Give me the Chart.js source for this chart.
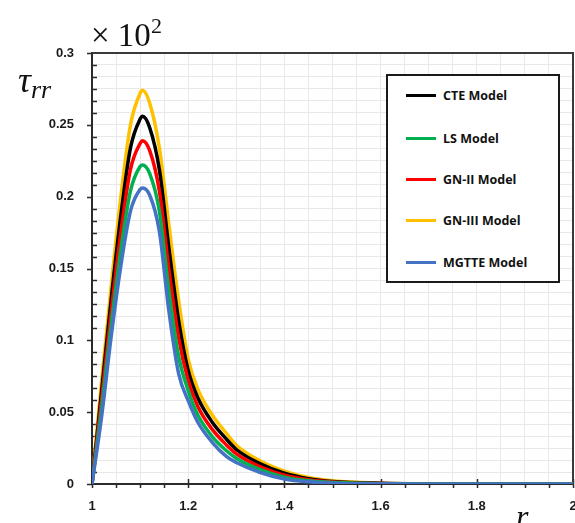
<!DOCTYPE html>
<html>
<head>
<meta charset="utf-8">
<script src="https://cdn.jsdelivr.net/npm/chart.js@4/dist/chart.umd.min.js"></script>
<style>
  body { margin: 0; background: #fff; overflow: hidden; }
  #wrap { position: relative; width: 575px; height: 523px; overflow: hidden; }
  #c { position: absolute; left: 0; top: 0; }
  .lbl { position: absolute; font-family: "Liberation Serif", serif; color: #111; white-space: nowrap; line-height: 1; }
  #legend { position: absolute; left: 386px; top: 74px; width: 174px; height: 209px; box-sizing: border-box;
            border: 2px solid #1a1a1a; background: #fff; }
  .row { position: absolute; left: 18px; height: 20px; display: flex; align-items: center;
         font-family: "Open Sans", sans-serif; font-weight: bold; font-size: 12.5px; color: #111; }
  .swatch { width: 30px; height: 3px; margin-right: 7px; }
</style>
</head>
<body>
<div id="wrap">
  <canvas id="c" width="600" height="523"></canvas>
  <div class="lbl" style="left:91px; top:15px; font-size:33px;">× 10<sup style="font-size:22px; vertical-align:13px;">2</sup></div>
  <div class="lbl" style="left:18px; top:62px; font-size:36px; font-style:italic;">τ<sub style="font-size:26px; vertical-align:-6px;">rr</sub></div>
  <div class="lbl" style="left:516px; top:500px; font-size:32px; font-style:italic;">r</div>
  <div id="legend"></div>
</div>
<script>
// r coordinate
const rValues = [1, 1.02, 1.04, 1.06, 1.08, 1.1, 1.105, 1.12, 1.14, 1.16, 1.18, 1.2, 1.22, 1.25, 1.28, 1.3, 1.35, 1.4, 1.45, 1.5, 1.6, 1.7, 1.8, 1.9, 2];

// tau_rr (x 10^2) for each model
const cteValues   = [0, 0.065, 0.129, 0.187, 0.234, 0.254, 0.256, 0.248, 0.219, 0.164, 0.114, 0.079, 0.060, 0.043, 0.031, 0.024, 0.014, 0.0075, 0.0037, 0.0018, 0.0005, 0.0001, 0, 0, 0];
const lsValues    = [0, 0.053, 0.111, 0.163, 0.204, 0.221, 0.222, 0.216, 0.190, 0.134, 0.089, 0.065, 0.048, 0.033, 0.023, 0.018, 0.010, 0.0048, 0.0022, 0.0010, 0.0002, 0, 0, 0, 0];
const gn2Values   = [0, 0.059, 0.120, 0.175, 0.219, 0.237, 0.239, 0.232, 0.204, 0.149, 0.102, 0.072, 0.054, 0.038, 0.027, 0.021, 0.012, 0.0062, 0.0030, 0.0014, 0.0003, 0.0001, 0, 0, 0];
const gn3Values   = [0, 0.072, 0.138, 0.200, 0.250, 0.272, 0.274, 0.265, 0.234, 0.180, 0.128, 0.087, 0.066, 0.048, 0.035, 0.027, 0.016, 0.0090, 0.0045, 0.0022, 0.0006, 0.0002, 0, 0, 0];
const mgtteValues = [0, 0.047, 0.103, 0.152, 0.190, 0.205, 0.206, 0.201, 0.176, 0.120, 0.077, 0.058, 0.043, 0.029, 0.019, 0.015, 0.008, 0.0035, 0.0015, 0.0006, 0.0001, 0, 0, 0, 0];

const seriesLabels = ['CTE Model', 'LS Model', 'GN-II Model', 'GN-III Model', 'MGTTE Model'];
const seriesColors = ['#000000', '#00b050', '#ff0000', '#ffc000', '#4472c4'];
const seriesOrder  = [3, 1, 2, 4, 0]; // blue on top, yellow underneath

const xTickLabels = [1, 1.2, 1.4, 1.6, 1.8, 2];
const yTickLabels = [0, 0.05, 0.1, 0.15, 0.2, 0.25, 0.3];
const xMinorStep = 0.05;
const yMinorPerMajor = 6;

const allValues = [cteValues, lsValues, gn2Values, gn3Values, mgtteValues];

const datasets = seriesLabels.map((label, i) => ({
    label: label,
    data: rValues.map((r, j) => ({ x: r, y: allValues[i][j] })),
    borderColor: seriesColors[i],
    backgroundColor: seriesColors[i],
    borderWidth: 3.5,
    pointRadius: 0,
    cubicInterpolationMode: 'monotone',
    order: seriesOrder[i],
}));

// grid tick positions
const xGrid = [];
for (let k = 0; k <= Math.round((xTickLabels[xTickLabels.length - 1] - xTickLabels[0]) / xMinorStep); k++) {
    xGrid.push(+(xTickLabels[0] + k * xMinorStep).toFixed(4));
}
const yGrid = [];
for (let m = 0; m < yTickLabels.length - 1; m++) {
    for (let k = 0; k < yMinorPerMajor; k++) {
        yGrid.push(yTickLabels[m] + (yTickLabels[m + 1] - yTickLabels[m]) * k / yMinorPerMajor);
    }
}
yGrid.push(yTickLabels[yTickLabels.length - 1]);

const isLabel = (list, v) => list.some(t => Math.abs(t - v) < 1e-6);

// tick marks and frame like the original
const frame = {
    id: 'frame',
    beforeDatasetsDraw(chart) {
        const { ctx, chartArea: a, scales: { x, y } } = chart;
        ctx.save();
        ctx.strokeStyle = '#2b2b2b';
        ctx.lineWidth = 1.5;
        ctx.beginPath();
        xGrid.forEach(v => {
            const px = Math.round(x.getPixelForValue(v)) + 0.5;
            if (isLabel(xTickLabels, v)) { ctx.moveTo(px, a.bottom - 5); ctx.lineTo(px, a.bottom + 4); }
            else { ctx.moveTo(px, a.bottom); ctx.lineTo(px, a.bottom + 4); }
        });
        yGrid.forEach(v => {
            const py = Math.round(y.getPixelForValue(v)) + 0.5;
            if (isLabel(yTickLabels, v)) { ctx.moveTo(a.left - 5, py); ctx.lineTo(a.left, py); }
            else { ctx.moveTo(a.left, py); ctx.lineTo(a.left + 5, py); }
        });
        ctx.stroke();
        ctx.lineWidth = 2;
        ctx.strokeStyle = '#3a3a3a';
        ctx.beginPath();
        ctx.moveTo(a.left, a.top); ctx.lineTo(a.right, a.top); ctx.lineTo(a.right, a.bottom);
        ctx.stroke();
        ctx.restore();
    }
};

const tickFont = { family: '"Liberation Sans", Arial, sans-serif', weight: 'bold', size: 13 };

new Chart(document.getElementById('c'), {
    type: 'line',
    data: { datasets },
    plugins: [frame],
    options: {
        responsive: false,
        animation: false,
        layout: { autoPadding: false, padding: { left: 0, top: 53, right: 27, bottom: 0 } },
        plugins: { legend: { display: false }, tooltip: { enabled: false } },
        scales: {
            x: {
                type: 'linear',
                min: 1, max: 2,
                afterBuildTicks: s => { s.ticks = xGrid.map(v => ({ value: v })); },
                afterFit: s => { s.height = 39; },
                grid: { color: '#e8e8e8', lineWidth: 1, drawTicks: false },
                border: { color: '#2b2b2b', width: 2 },
                ticks: {
                    autoSkip: false, maxRotation: 0, padding: 15,
                    color: '#1a1a1a',
                    font: tickFont,
                    callback: v => isLabel(xTickLabels, v) ? String(+v.toFixed(1)) : ''
                }
            },
            y: {
                type: 'linear',
                min: 0, max: 0.3,
                afterBuildTicks: s => { s.ticks = yGrid.map(v => ({ value: v })); },
                afterFit: s => { s.width = 92; },
                grid: { color: '#e8e8e8', lineWidth: 1, drawTicks: false },
                border: { color: '#2b2b2b', width: 2 },
                ticks: {
                    autoSkip: false, padding: 18,
                    color: '#1a1a1a',
                    font: tickFont,
                    callback: v => isLabel(yTickLabels, v) ? String(+v.toFixed(2)) : ''
                }
            }
        }
    }
});

// legend as html text
const legend = document.getElementById('legend');
const rowTops = [9, 52, 93, 134, 176];
seriesLabels.forEach((label, i) => {
    const row = document.createElement('div');
    row.className = 'row';
    row.style.top = rowTops[i] + 'px';
    const sw = document.createElement('span');
    sw.className = 'swatch';
    sw.style.background = seriesColors[i];
    row.appendChild(sw);
    row.appendChild(document.createTextNode(label));
    legend.appendChild(row);
});
</script>
</body>
</html>
